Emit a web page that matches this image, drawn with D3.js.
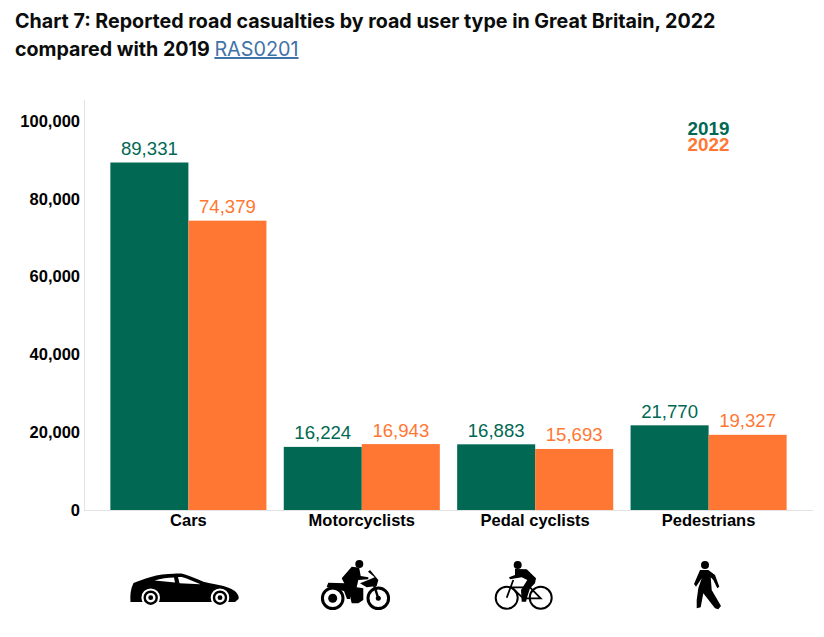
<!DOCTYPE html>
<html><head><meta charset="utf-8">
<script src="https://cdn.jsdelivr.net/npm/d3@7"></script>
<style>
html,body{margin:0;padding:0;background:#fff}
svg{display:block}
text{font-family:"Liberation Sans",Arial,sans-serif}
.title{font-family:Inter,"Noto Sans",sans-serif;font-weight:700;font-size:19.65px;fill:#0b0c0c}
.link{font-family:Inter,"Noto Sans",sans-serif;font-weight:400;font-size:19.8px;fill:#3f72a8}
</style></head><body>
<svg id="c" width="824" height="637"></svg>
<script>
const categories = ["Cars","Motorcyclists","Pedal cyclists","Pedestrians"];
const values2019 = [89331,16224,16883,21770];
const values2022 = [74379,16943,15693,19327];
const years = ["2019","2022"];
const colours = ["#006853","#ff7733"];
const yTicks = [0,20000,40000,60000,80000,100000];

const svg = d3.select("#c");
const y = d3.scaleLinear().domain([0,100000]).range([510,121]);
const x = d3.scaleBand().domain(categories).range([101.7,795.3]).paddingInner(0.1).paddingOuter(0.05);
const x1 = d3.scaleBand().domain(years).range([0,x.bandwidth()]);
const fmt = d3.format(",");

// title
svg.append("text").attr("class","title").attr("x",15).attr("y",28).text("Chart 7: Reported road casualties by road user type in Great Britain, 2022");
const t2 = svg.append("text").attr("class","title").attr("x",15).attr("y",56);
t2.append("tspan").text("compared with 2019 ");
t2.append("tspan").attr("class","link").attr("text-decoration","underline").text("RAS0201");

// axes
const yAxis = svg.append("g").attr("transform","translate(84,0)")
  .call(d3.axisLeft(y).tickValues(yTicks).tickFormat(fmt).tickSize(0).tickPadding(4));
yAxis.select(".domain").remove();
yAxis.selectAll("text").attr("font-family","Liberation Sans").attr("font-size",16.5).attr("font-weight",700).attr("fill","#000");
svg.append("line").attr("x1",84.5).attr("x2",84.5).attr("y1",100).attr("y2",510).attr("stroke","#e3e3e3");
svg.append("line").attr("x1",84).attr("x2",813).attr("y1",510.5).attr("y2",510.5).attr("stroke","#e3e3e3");

// bars
const series = [values2019,values2022];
series.forEach((vals,si)=>{
  const g = svg.append("g");
  g.selectAll("rect").data(vals).join("rect")
    .attr("x",(d,i)=>x(categories[i])+x1(years[si]))
    .attr("width",x1.bandwidth())
    .attr("y",d=>y(d)).attr("height",d=>y(0)-y(d))
    .attr("fill",colours[si]);
  g.selectAll("text").data(vals).join("text")
    .attr("x",(d,i)=>x(categories[i])+x1(years[si])+x1.bandwidth()/2)
    .attr("y",d=>y(d)-7.5)
    .attr("text-anchor","middle").attr("font-size",18.6).attr("fill",colours[si])
    .text(fmt);
});

// category labels
svg.append("g").selectAll("text").data(categories).join("text")
  .attr("x",d=>x(d)+x.bandwidth()/2).attr("y",526)
  .attr("text-anchor","middle").attr("font-size",16.5).attr("font-weight",700).attr("fill","#000")
  .text(d=>d);

// legend
years.forEach((yr,i)=>svg.append("text").attr("x",708.5).attr("y",135+i*16)
  .attr("text-anchor","middle").attr("font-size",18.8).attr("font-weight",700)
  .attr("fill",colours[i]).text(yr));

// icons
const iconPos = {"Cars":[184.5,591],"Motorcyclists":[355,590],"Pedal cyclists":[524,590],"Pedestrians":[708,590]};
const black = (g,d)=>g.append("path").attr("fill","#000").attr("d",d);
const icons = {
 "Cars": g=>{
  black(g,"M-54,11 C-54.5,4 -54,-2 -51,-8 C-46,-10 -40,-12 -34.5,-13.7 C-26,-16.5 -18,-17.3 -11,-17.3 C-6,-17.5 -3,-17.5 -1,-17 C6,-15 13,-11.5 19,-9.3 C26,-7.5 33,-6.5 39,-5 C45,-3 50,-1 52,1.7 C54,4 54.5,6 54,8 L50.5,11Z");
  g.append("path").attr("fill","#fff").attr("d","M-30,-10.5 C-24,-12.5 -16,-13.5 -10.5,-13.5 L-9.5,-8.5 Z M-6.5,-14 C-3,-14.3 0,-13.5 2,-12.5 L16,-6.7 L-5,-7.7 Z");
  [-33.8,35.5].forEach(cx=>{
   g.append("circle").attr("cx",cx).attr("cy",6.7).attr("r",9.3).attr("fill","#fff");
   g.append("circle").attr("cx",cx).attr("cy",6.7).attr("r",6).attr("fill","none").attr("stroke","#000").attr("stroke-width",2.4);
   g.append("circle").attr("cx",cx).attr("cy",6.7).attr("r",2.4).attr("fill","#000");
  });
 },
 "Motorcyclists": g=>{
  [-22.3,23.3].forEach((cx,i)=>{
   g.append("circle").attr("cx",cx).attr("cy",8.3).attr("r",10.3).attr("fill","none").attr("stroke","#000").attr("stroke-width",3);
   g.append("circle").attr("cx",cx).attr("cy",8.3).attr("r",i?2.5:4.5).attr("fill","#000");
  });
  g.append("circle").attr("cx",4.3).attr("cy",-26).attr("r",4).attr("fill","#000");
  black(g,"M-13.3,-11.7 L-3.3,-23.3 C0,-23 3,-23 4.3,-21.7 L5.7,-14 L13.3,-12.7 L13.3,-10.7 L3.3,-10 L1.7,-2.7 L8.3,-1.7 L8.3,10 L3.3,13.3 L-3.3,13.3 L-5.7,3.3Z");
  black(g,"M-26.7,-7.3 L-10,-6.7 L-5,0 L-5,9 L-8,9 L-11,1 L-22,-1 L-28.3,-3.3Z");
  black(g,"M15,-20 L23.3,-10 L21.7,-4 L11.7,-2.7 L5,-6.7 L12,-9.5 L19.7,-12.7 L13,-18.3Z");
  g.append("path").attr("fill","none").attr("stroke","#000").attr("stroke-width",2.4).attr("d","M19,-5 L23.3,8.3");
 },
 "Pedal cyclists": g=>{
  [-17.3,16.7].forEach(cx=>{
   g.append("circle").attr("cx",cx).attr("cy",7.7).attr("r",11).attr("fill","none").attr("stroke","#000").attr("stroke-width",2);
  });
  g.append("path").attr("fill","none").attr("stroke","#000").attr("stroke-width",1.8).attr("d","M-17.3,7.7 L-10.7,-10 M-12.3,-2.7 L6,-2.7 L16.7,8.3 L-0.7,8.3 L-12.3,-2.7");
  g.append("circle").attr("cx",-6.3).attr("cy",-25).attr("r",4).attr("fill","#000");
  black(g,"M-9,-21 L2.7,-20.7 L12,-11.7 L11,-6.7 L6,-1.7 L3.3,6.7 L2,11.7 L-2.3,11.7 L-3,0 L3.3,-10 L-2.3,-12.7 L-14,-10.7 L-15,-12.7 L-9,-15Z");
 },
 "Pedestrians": g=>{
  g.append("circle").attr("cx",-3).attr("cy",-25).attr("r",4).attr("fill","#000");
  black(g,"M-8,-20 L0.3,-20 L7,-15 L11.3,-3.3 L9.3,-1.7 L5.3,-10 L2.7,-12.7 L3.7,0 L13,16 L10.3,19.3 L7,18.3 L-4.7,3.3 L-7.3,17.3 L-11.3,18.3 L-11.3,10 L-9.7,-1.7 L-6.3,-11.7 L-12,-3.3 L-14,-6Z");
 }
};
const iconG = svg.append("g");
categories.forEach(c=>{
  const g = iconG.append("g").attr("transform",`translate(${iconPos[c]})`);
  icons[c](g);
});
</script>
</body></html>
